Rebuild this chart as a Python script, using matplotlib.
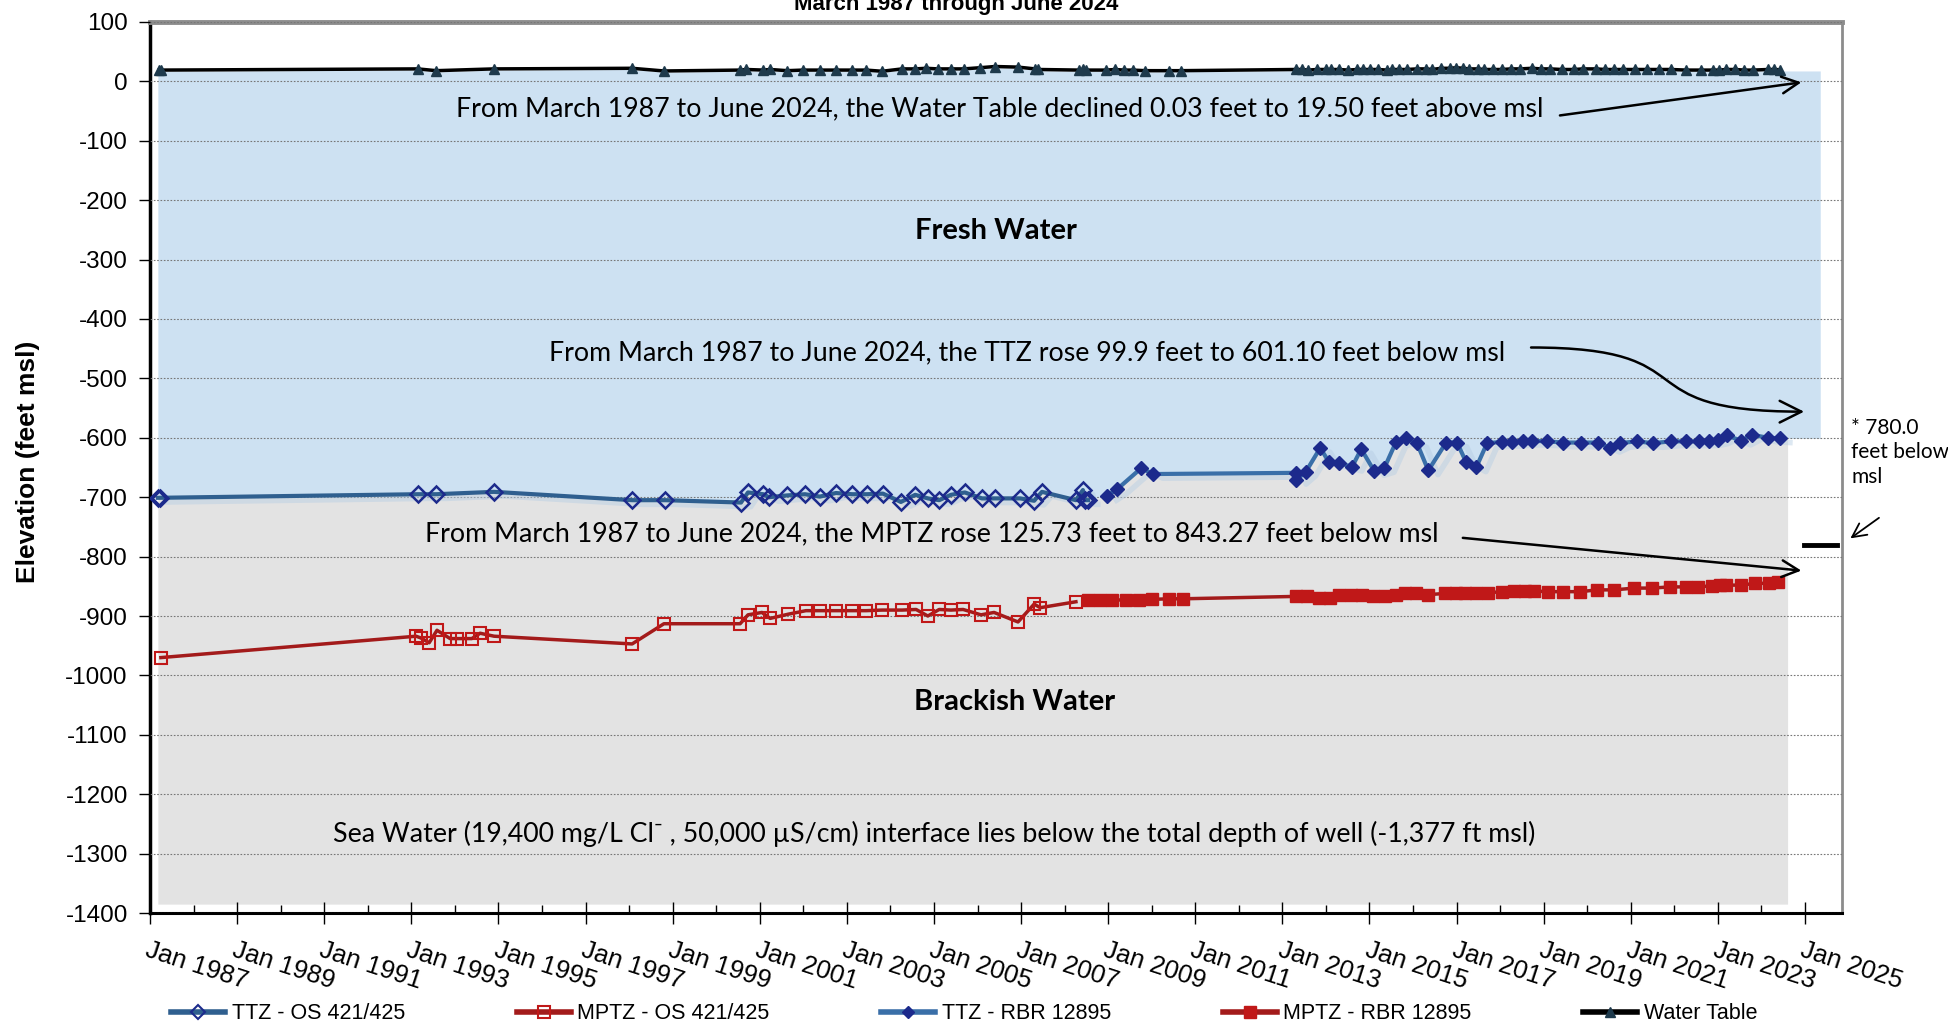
import numpy as np
import matplotlib
matplotlib.use("Agg")
import matplotlib.pyplot as plt
import matplotlib.patheffects as pe
from matplotlib.patches import FancyArrowPatch
from matplotlib.path import Path
from matplotlib.lines import Line2D

# Datos (año decimal, elevación en pies msl)
ttz_os_x = [1987.18, 1987.23, 1993.15, 1993.57, 1994.90, 1998.07, 1998.83, 2000.57, 2000.73,
            2001.08, 2001.21, 2001.63, 2002.04, 2002.38, 2002.75, 2003.12, 2003.46, 2003.83,
            2004.24, 2004.57, 2004.86, 2005.12, 2005.39, 2005.71, 2006.10, 2006.40, 2006.98,
            2007.30, 2007.48, 2008.26, 2008.42, 2008.47, 2008.54]
ttz_os_y = [-701, -701, -695, -695, -691, -705, -705, -709, -692,
            -695, -700, -697, -695, -699, -693, -695, -695, -694,
            -708, -696, -702, -705, -696, -692, -702, -702, -702,
            -706, -691, -705, -688, -705, -705]

ttz_rbr_x = [2008.97, 2009.20, 2009.76, 2010.03, 2013.31, 2013.32, 2013.54, 2013.87, 2014.07,
             2014.30, 2014.60, 2014.81, 2015.11, 2015.34, 2015.61, 2015.84, 2016.09, 2016.35,
             2016.76, 2017.01, 2017.22, 2017.45, 2017.70, 2018.04, 2018.27, 2018.53, 2018.73,
             2019.08, 2019.45, 2019.86, 2020.25, 2020.52, 2020.75, 2021.14, 2021.51, 2021.93,
             2022.27, 2022.57, 2022.80, 2023.00, 2023.21, 2023.53, 2023.79, 2024.15, 2024.43]
ttz_rbr_y = [-698, -687, -651, -661, -659, -671, -657, -617, -641,
             -642, -649, -619, -656, -651, -607, -601, -609, -655,
             -608, -608, -641, -650, -609, -607, -607, -605, -605,
             -606, -608, -608, -608, -617, -609, -606, -609, -606,
             -606, -606, -606, -603, -596, -605, -595, -600, -601]

mptz_os_x = [1987.25, 1993.11, 1993.22, 1993.41, 1993.59, 1993.89, 1994.05, 1994.39, 1994.58,
             1994.90, 1998.07, 1998.80, 2000.55, 2000.73, 2001.05, 2001.24, 2001.65, 2002.06,
             2002.38, 2002.75, 2003.12, 2003.44, 2003.81, 2004.27, 2004.59, 2004.86, 2005.12,
             2005.39, 2005.67, 2006.08, 2006.38, 2006.93, 2007.30, 2007.44, 2008.26]
mptz_os_y = [-970, -934, -937, -945, -924, -938, -938, -938, -929,
             -934, -947, -913, -913, -898, -894, -904, -897, -891,
             -891, -891, -891, -891, -890, -890, -889, -900, -889,
             -890, -889, -898, -894, -910, -880, -886, -876]

mptz_rbr_x = [2008.54, 2008.81, 2009.09, 2009.41, 2009.71, 2010.01, 2010.40, 2010.72, 2013.31,
              2013.57, 2013.84, 2014.10, 2014.30, 2014.58, 2014.83, 2015.08, 2015.36, 2015.61,
              2015.82, 2016.07, 2016.35, 2016.74, 2016.99, 2017.20, 2017.45, 2017.72, 2018.04,
              2018.32, 2018.57, 2018.78, 2019.10, 2019.45, 2019.84, 2020.23, 2020.62, 2021.08,
              2021.49, 2021.90, 2022.27, 2022.55, 2022.87, 2023.05, 2023.19, 2023.53, 2023.86,
              2024.18, 2024.38]
mptz_rbr_y = [-873, -873, -873, -873, -873, -872, -871, -871, -867,
              -867, -870, -869, -865, -864, -864, -866, -866, -864,
              -861, -862, -864, -862, -862, -861, -862, -861, -859,
              -858, -858, -858, -859, -859, -859, -856, -856, -853,
              -853, -851, -851, -851, -849, -848, -848, -848, -845,
              -845, -843]

wt_x = [1987.21, 1987.25, 1993.15, 1993.57, 1994.90, 1998.07, 1998.80, 2000.55, 2000.69,
        2001.08, 2001.24, 2001.63, 2001.99, 2002.38, 2002.75, 2003.12, 2003.44, 2003.81,
        2004.27, 2004.57, 2004.82, 2005.09, 2005.39, 2005.69, 2006.06, 2006.40, 2006.93,
        2007.32, 2007.39, 2008.33, 2008.42, 2008.49, 2008.95, 2009.16, 2009.36, 2009.57,
        2009.85, 2010.40, 2010.67, 2013.31, 2013.45, 2013.59, 2013.80, 2014.00, 2014.12,
        2014.30, 2014.51, 2014.72, 2014.85, 2015.01, 2015.20, 2015.40, 2015.52, 2015.68,
        2015.86, 2016.09, 2016.30, 2016.44, 2016.64, 2016.85, 2016.99, 2017.15, 2017.29,
        2017.49, 2017.63, 2017.84, 2018.04, 2018.25, 2018.46, 2018.73, 2018.94, 2019.15,
        2019.42, 2019.70, 2019.90, 2020.20, 2020.41, 2020.62, 2020.82, 2021.10, 2021.37,
        2021.65, 2021.92, 2022.27, 2022.61, 2022.89, 2023.03, 2023.19, 2023.40, 2023.60,
        2023.81, 2024.15, 2024.29, 2024.43]
wt_y = [19, 19, 21, 18, 21, 22, 17.5, 19, 20,
        19, 20, 18, 19, 19, 19, 19, 19, 17,
        21, 21, 22, 21, 21, 21, 23, 25, 24,
        21, 20, 19, 20, 19, 19, 20, 19, 19,
        18, 18, 18, 20, 20, 19, 20, 20, 20,
        20, 19, 20, 20, 20, 20, 19, 20, 20,
        20, 21, 21, 20, 22, 22, 23, 22, 21,
        21, 20, 20, 20, 21, 21, 22, 21, 21,
        20, 20, 21, 21, 20, 20, 20, 20, 20,
        20, 20, 19, 19, 19, 19, 20, 20, 19,
        19, 20, 20, 19.5]

fresh_end = 2025.35
brackish_end = 2024.60
well_bottom = -1385
marker_780 = -780.0

# estilos
ttz_line = "#2f5f8f"
ttz_rbr_line = "#3a6fa8"
ttz_mark = "#1c2a8c"
mptz_line = "#a31b1b"
mptz_mark = "#c01818"
fresh_color = "#cde1f2"
brackish_color = "#e3e3e3"

plt.rcParams['font.family'] = ['Liberation Sans', 'DejaVu Sans']
note_font = ['Lato', 'DejaVu Sans']
note_size = 19.3

fig = plt.figure(figsize=(19.48, 10.26), dpi=100)
ax = fig.add_axes([0.0770, 0.1101, 0.8686, 0.8685])

# areas de agua dulce / salobre
bnd_x = np.array(ttz_os_x + ttz_rbr_x + [fresh_end])
bnd_y = np.array(ttz_os_y + ttz_rbr_y + [ttz_rbr_y[-1]])
top_y = np.interp(bnd_x, wt_x, wt_y) - 2
ax.fill_between(bnd_x, bnd_y, top_y, color=fresh_color, lw=0, zorder=1)
mask = bnd_x <= brackish_end
gx = np.append(bnd_x[mask], brackish_end)
gy = np.append(bnd_y[mask], bnd_y[mask][-1])
ax.fill_between(gx, well_bottom, gy, color=brackish_color, lw=0, zorder=1)

ax.yaxis.grid(True, color="#777777", ls=(0, (1.5, 1.5)), lw=0.8, zorder=2)
ax.set_axisbelow(False)

shadow = [pe.SimpleLineShadow(offset=(7, -3), shadow_color="#b5cde3", alpha=0.45, linewidth=4)]
ax.plot(ttz_os_x, ttz_os_y, color=ttz_line, lw=3, path_effects=shadow, zorder=3)
ax.plot(ttz_rbr_x, ttz_rbr_y, color=ttz_rbr_line, lw=3, path_effects=shadow, zorder=3)

ax.plot(ttz_os_x, ttz_os_y, color=ttz_line, lw=3, marker="D", ms=8, mfc="none",
        mec=ttz_mark, mew=1.8, zorder=5)
ax.plot(ttz_rbr_x, ttz_rbr_y, color=ttz_rbr_line, lw=3, marker="D", ms=7, mfc=ttz_mark,
        mec=ttz_mark, zorder=5)
ax.plot(mptz_os_x, mptz_os_y, color=mptz_line, lw=2.5, marker="s", ms=9, mfc="none",
        mec=mptz_mark, mew=1.5, zorder=5)
ax.plot(mptz_rbr_x, mptz_rbr_y, color=mptz_line, lw=2.5, marker="s", ms=8.5, mfc=mptz_mark,
        mec=mptz_mark, zorder=5)
ax.plot(wt_x, wt_y, color="black", lw=2.5, marker="^", ms=6.5, mfc="#1e3a4c", mec="#1e3a4c",
        zorder=6)

# ejes
ax.set_xlim(1987.0, 2025.85)
ax.set_ylim(-1400, 100)
ax.set_yticks(np.arange(-1400, 101, 100))
ax.set_yticklabels([str(v) for v in range(-1400, 101, 100)], fontsize=17.5)
years = list(range(1987, 2026, 2))
ax.set_xticks(years)
ax.set_xticks(range(1987, 2026), minor=True)
ax.set_xticklabels([f"Jan {y}" for y in years], fontsize=18.5, rotation=-18,
                   ha="left", va="top", rotation_mode="anchor")
ax.tick_params(axis="x", which="major", direction="inout", length=16, width=1, pad=10)
ax.tick_params(axis="x", which="minor", direction="in", length=6, width=1)
ax.tick_params(axis="y", direction="out", length=8, width=1, pad=8)
ax.spines["left"].set_linewidth(2.5)
ax.spines["bottom"].set_linewidth(2.2)
ax.spines["top"].set_color("#8c8c8c")
ax.spines["top"].set_linewidth(3.5)
ax.spines["right"].set_color("#8c8c8c")
ax.spines["right"].set_linewidth(2)
ax.set_ylabel("Elevation (feet msl)", fontsize=19, fontweight="bold")
ax.yaxis.set_label_coords(-0.065, 0.506)

fig.text(0.491, 1 - 10 / 1026, "March 1987 through June 2024", ha="center", va="baseline",
         fontsize=16, fontweight="bold")

# textos
ax.text(2006.43, -252, "Fresh Water", ha="center", va="center", fontsize=21,
        fontweight="bold", family=note_font, zorder=7)
ax.text(2006.84, -1045, "Brackish Water", ha="center", va="center", fontsize=21,
        fontweight="bold", family=note_font, zorder=7)
ax.text(2006.52, -46, "From March 1987 to June 2024, the Water Table declined 0.03 feet to 19.50 feet above msl",
        ha="center", va="center", fontsize=note_size, family=note_font, zorder=7)
ax.text(2007.14, -457, "From March 1987 to June 2024, the TTZ rose 99.9 feet to 601.10 feet below msl",
        ha="center", va="center", fontsize=note_size, family=note_font, zorder=7)
ax.text(2004.96, -762, "From March 1987 to June 2024, the MPTZ rose 125.73 feet to 843.27 feet below msl",
        ha="center", va="center", fontsize=note_size, family=note_font, zorder=7)
ax.text(2005.0, -1267,
        "Sea Water (19,400 mg/L Cl\u207b , 50,000 \u00b5S/cm) interface lies below the total depth of well (-1,377 ft msl)",
        ha="center", va="center", fontsize=note_size, family=note_font, zorder=7)

arrow_kw = dict(arrowstyle="->,head_length=1.2,head_width=0.6", color="black", lw=1.8)
ax.annotate("", xy=(2024.98, -1), xytext=(2019.31, -58), arrowprops=arrow_kw, zorder=7)
ax.annotate("", xy=(2024.98, -824), xytext=(2017.08, -768), arrowprops=arrow_kw, zorder=7)
curve = Path([(2018.71, -448), (2022.9, -448), (2020.7, -556), (2024.98, -556)],
             [Path.MOVETO, Path.CURVE4, Path.CURVE4, Path.CURVE4])
ax.add_patch(FancyArrowPatch(path=curve, mutation_scale=13, **arrow_kw, zorder=7))

# marca 780 pies
ax.plot([2024.98, 2025.74], [marker_780, marker_780], color="black", lw=3.5, zorder=7)
ax.annotate("", xy=(2025.99, -772), xytext=(2026.75, -732), xycoords="data",
            arrowprops=dict(arrowstyle="->,head_length=1.0,head_width=0.5", color="black", lw=1.3),
            annotation_clip=False)
ax.text(2026.06, -566, f"* {-marker_780:.1f}\nfeet below\nmsl", ha="left", va="top",
        fontsize=15, family=note_font, linespacing=1.3, clip_on=False)

handles = [
    Line2D([], [], color=ttz_line, lw=4, marker="D", ms=7, mfc="none", mec=ttz_mark, mew=1.5),
    Line2D([], [], color=mptz_line, lw=4, marker="s", ms=9, mfc="none", mec=mptz_mark, mew=1.5),
    Line2D([], [], color=ttz_rbr_line, lw=4, marker="D", ms=6, mfc=ttz_mark, mec=ttz_mark),
    Line2D([], [], color=mptz_line, lw=4, marker="s", ms=8, mfc=mptz_mark, mec=mptz_mark),
    Line2D([], [], color="black", lw=4, marker="^", ms=7, mfc="#1e3a4c", mec="#1e3a4c"),
]
labels = ["TTZ - OS 421/425", "MPTZ - OS 421/425", "TTZ - RBR 12895", "MPTZ - RBR 12895", "Water Table"]
fig.legend(handles, labels, loc="center", bbox_to_anchor=(0.495, 0.012), ncol=5, frameon=False,
           prop={"size": 15.5}, handlelength=2.5, handletextpad=0.3,
           columnspacing=5.2)

fig.savefig("out.png", dpi=100)
